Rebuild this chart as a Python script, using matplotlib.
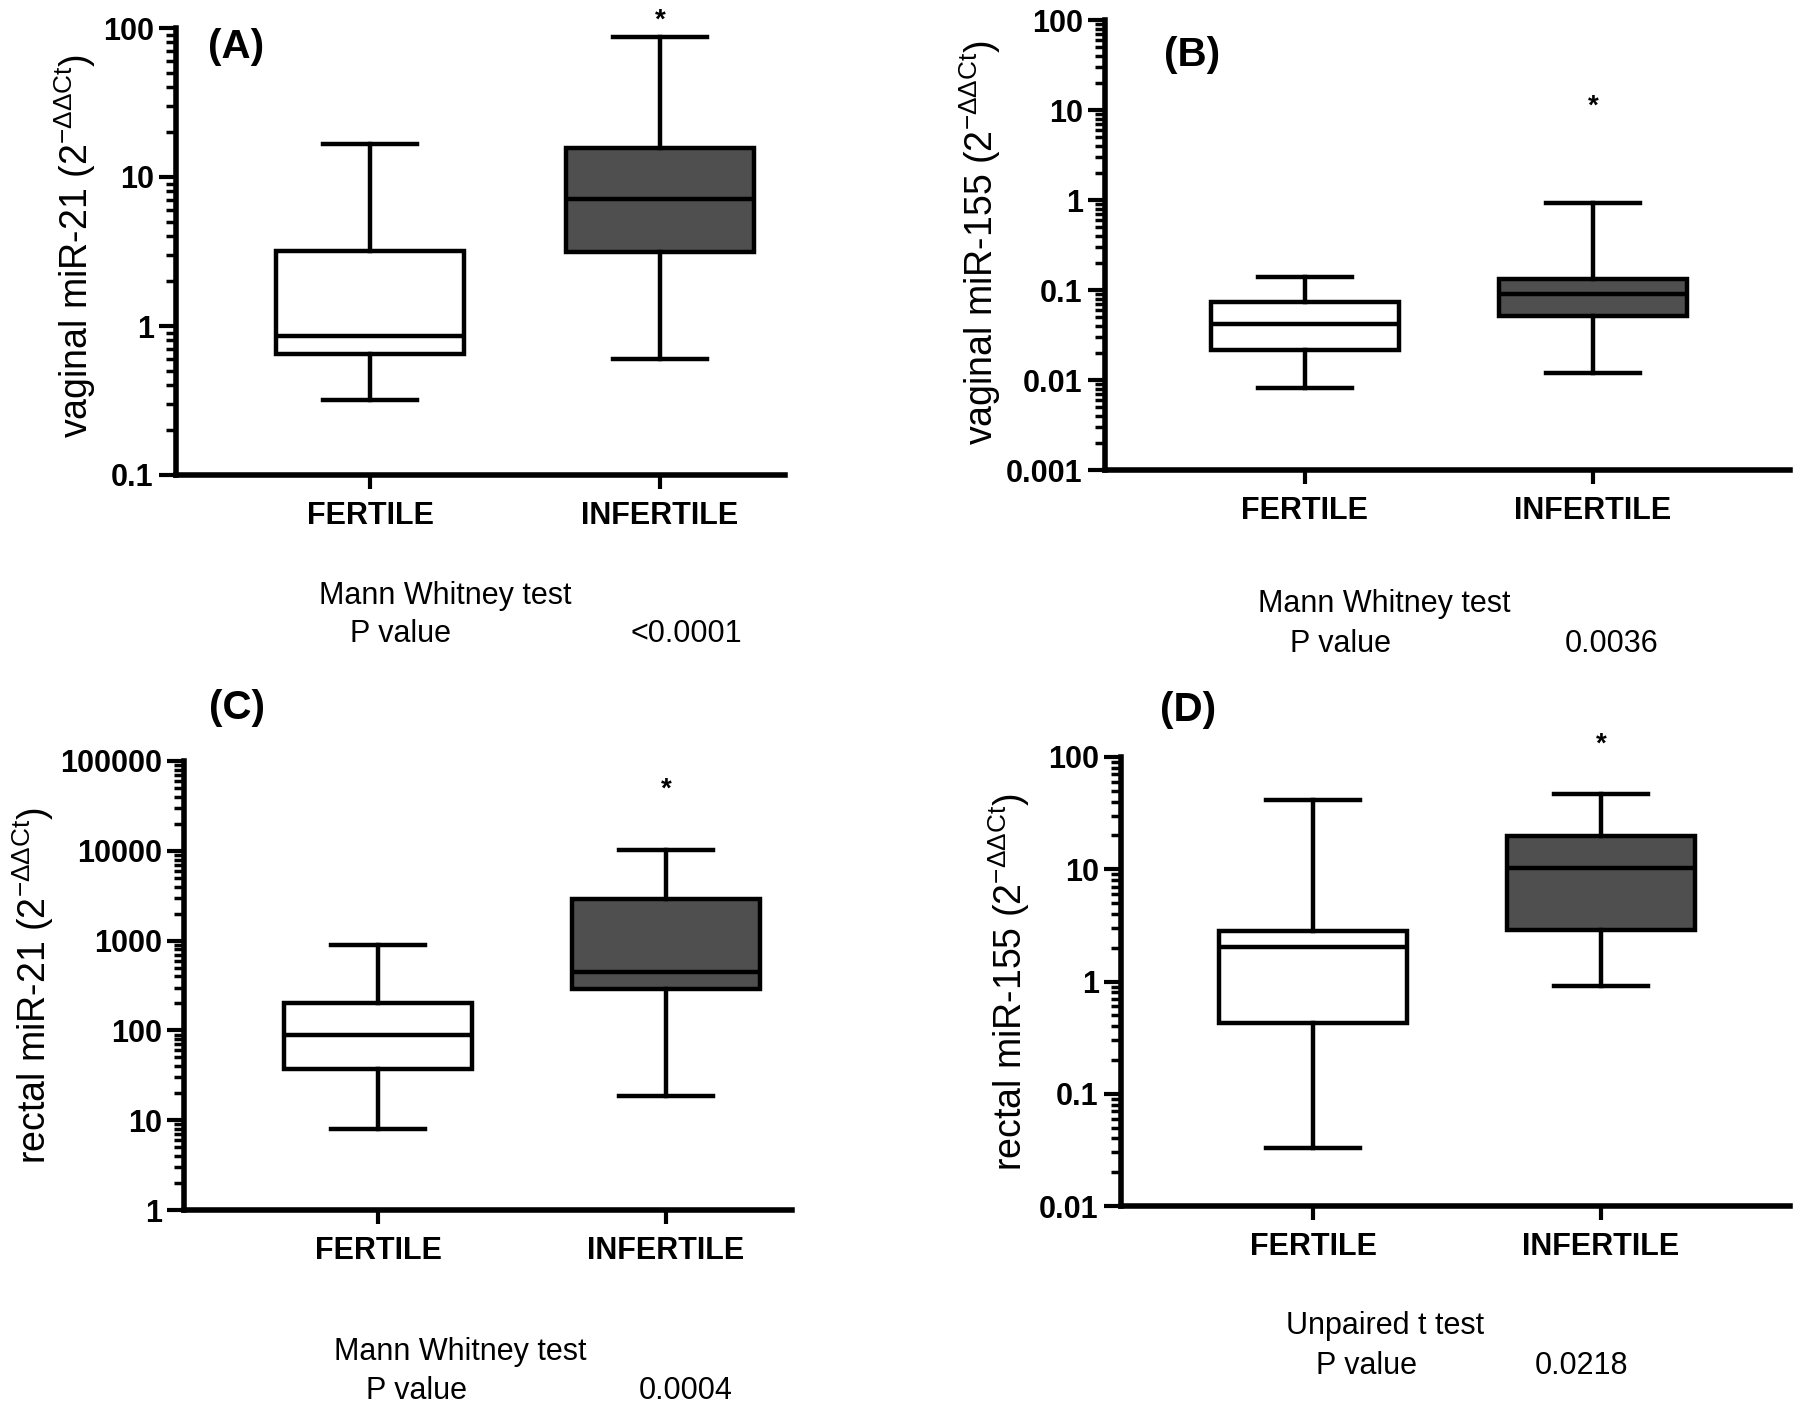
import numpy as np
import matplotlib
matplotlib.use('Agg')
import matplotlib.pyplot as plt
from matplotlib.ticker import LogLocator, FixedLocator, FuncFormatter, NullFormatter

plt.rcParams['font.family'] = ['Liberation Sans', 'DejaVu Sans']
plt.rcParams['mathtext.fontset'] = 'custom'
plt.rcParams['mathtext.rm'] = 'Liberation Sans'
plt.rcParams['mathtext.it'] = 'Liberation Sans'

categories = ['FERTILE', 'INFERTILE']

# whislo, q1, med, q3, whishi
a_fertile = [0.32, 0.65, 0.86, 3.2, 16.6]
a_infertile = [0.60, 3.14, 7.1, 15.7, 87]
b_fertile = [0.0082, 0.0216, 0.042, 0.0735, 0.139]
b_infertile = [0.012, 0.0514, 0.090, 0.132, 0.93]
c_fertile = [7.9, 36.9, 88, 202, 885]
c_infertile = [18.6, 289, 447, 2940, 10300]
d_fertile = [0.033, 0.425, 2.01, 2.8, 41.6]
d_infertile = [0.92, 2.86, 10.2, 19.6, 46.4]

panel_tags = ['(A)', '(B)', '(C)', '(D)']
ylabels = ['vaginal miR-21', 'vaginal miR-155', 'rectal miR-21', 'rectal miR-155']
ylims = [(0.1, 100), (0.001, 100), (1, 100000), (0.01, 100)]
star_values = [112, 11, 48000, 128]
tests = ['Mann Whitney test', 'Mann Whitney test', 'Mann Whitney test', 'Unpaired t test']
pvalues = ['<0.0001', '0.0036', '0.0004', '0.0218']

W, H = 1800, 1403
fig = plt.figure(figsize=(W / 100, H / 100), dpi=100)

# layout in pixels: left, right, top, bottom of axes, xlim
layout = [
    (176, 785, 28, 475, (0.331, 2.431)),
    (1105, 1790, 20, 470, (0.306, 2.684)),
    (184, 792, 761, 1210, (0.326, 2.4375)),
    (1121, 1790, 757, 1206, (0.333, 2.656)),
]
tag_pos = [(236, 47), (1192, 55), (237, 708), (1188, 710)]
ylab_pos = [(75, 246), (980, 242), (33, 985), (1009, 982)]
test_pos = [(445, 596), (1384, 604), (460, 1352), (1385, 1326)]
pval_pos = [(401, 634, 686, 634), (1340, 644, 1612, 644), (416, 1391, 686, 1391), (1367, 1366, 1582, 1366)]

data = [(a_fertile, a_infertile), (b_fertile, b_infertile),
        (c_fertile, c_infertile), (d_fertile, d_infertile)]


def fmt(v, pos):
    return f'{v:.10g}'


for i, (fert, infert) in enumerate(data):
    l, r, t, b, xl = layout[i]
    ax = fig.add_axes([l / W, 1 - b / H, (r - l) / W, (b - t) / H])
    stats = []
    for name, s in zip(categories, (fert, infert)):
        stats.append(dict(label=name, whislo=s[0], q1=s[1], med=s[2], q3=s[3], whishi=s[4], fliers=[]))
    bp = ax.bxp(stats, positions=[1, 2], widths=0.65, patch_artist=True, showfliers=False,
                boxprops=dict(linewidth=3.2, edgecolor='black'),
                medianprops=dict(color='black', linewidth=3.2),
                whiskerprops=dict(color='black', linewidth=3.2),
                capprops=dict(color='black', linewidth=3.2))
    bp['boxes'][0].set_facecolor('white')
    bp['boxes'][1].set_facecolor('#4f4f4f')

    ax.set_yscale('log')
    ax.set_ylim(*ylims[i])
    ax.set_xlim(*xl)
    ax.yaxis.set_major_locator(LogLocator(base=10, numticks=20))
    ax.yaxis.set_minor_locator(LogLocator(base=10, subs=np.arange(2, 10), numticks=20))
    ax.yaxis.set_major_formatter(FuncFormatter(fmt))
    ax.yaxis.set_minor_formatter(NullFormatter())
    ax.xaxis.set_major_locator(FixedLocator([1, 2]))
    ax.set_xticklabels(categories)

    for side in ('top', 'right'):
        ax.spines[side].set_visible(False)
    for side in ('left', 'bottom'):
        ax.spines[side].set_linewidth(4)
    ax.tick_params(axis='y', which='major', length=12, width=3, labelsize=22, pad=4)
    ax.tick_params(axis='y', which='minor', length=7, width=2.5)
    ax.tick_params(axis='x', which='major', length=10, width=3, labelsize=22, pad=9)
    for lab in ax.get_yticklabels() + ax.get_xticklabels():
        lab.set_fontweight('bold')

    ax.text(2, star_values[i], '*', ha='center', va='center', fontsize=20,
            fontweight='bold', clip_on=False)

    fig.text(tag_pos[i][0] / W, 1 - tag_pos[i][1] / H, panel_tags[i], ha='center', va='center',
             fontsize=29, fontweight='bold')
    fig.text(ylab_pos[i][0] / W, 1 - ylab_pos[i][1] / H,
             ylabels[i] + r' (2$^{\mathrm{-\Delta\Delta Ct}}$)', rotation=90,
             ha='center', va='center', fontsize=27)

    fig.text(test_pos[i][0] / W, 1 - test_pos[i][1] / H, tests[i], ha='center', va='center',
             fontsize=22)
    px, py, vx, vy = pval_pos[i]
    fig.text(px / W, 1 - py / H, 'P value', ha='center', va='center', fontsize=22)
    fig.text(vx / W, 1 - vy / H, pvalues[i], ha='center', va='center', fontsize=22)

fig.savefig('out.png', dpi=100, facecolor='white')
